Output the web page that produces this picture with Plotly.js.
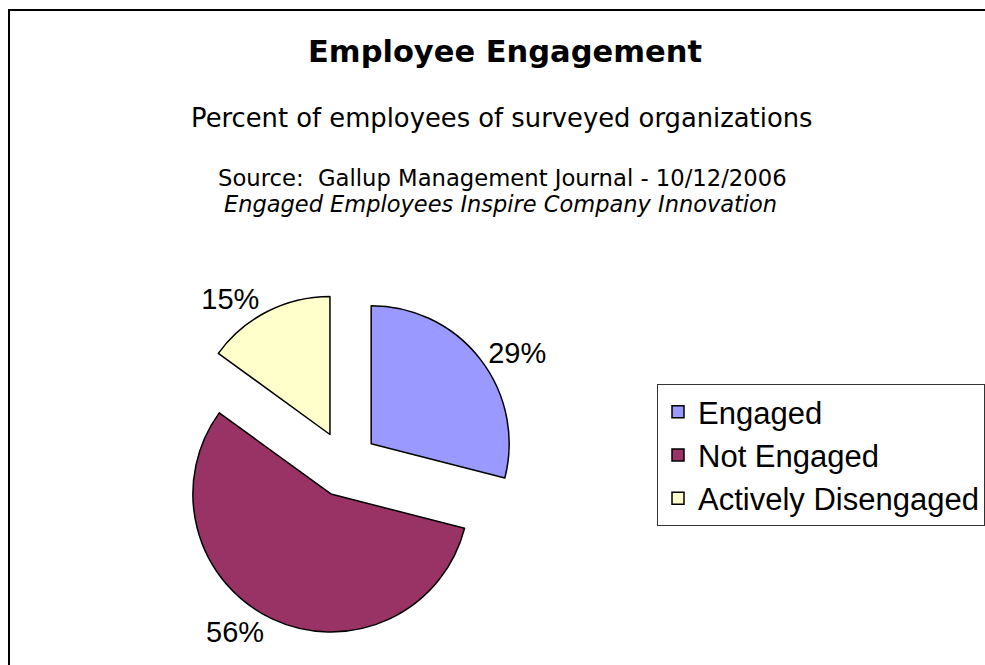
<!DOCTYPE html>
<html>
<head>
<meta charset="utf-8">
<script src="https://cdn.plot.ly/plotly-3.0.1.min.js"></script>
<style>
  html, body { margin: 0; padding: 0; background: #ffffff; }
  #chart { width: 985px; height: 665px; }
</style>
</head>
<body>
<div id="chart"></div>
<script>
// ---- data ----
var categories = ["Engaged", "Not Engaged", "Actively Disengaged"];
var values = [29, 56, 15];
var sliceColors = ["#9999FF", "#993366", "#FFFFCC"];

var titleText = "Employee Engagement";
var subtitleText = "Percent of employees of surveyed organizations";
var sourceText = "Source:&nbsp; Gallup Management Journal - 10/12/2006";
var articleText = "Engaged Employees Inspire Company Innovation";

// ---- layout helpers (page pixel -> paper fraction, margins are zero) ----
var W = 985, H = 665;
function px(x) { return x / W; }
function py(y) { return 1 - y / H; }

var pullFrac = 0.24;
var pieCx = 345, pieCy = 464, pieR = 138;
var outerR = pieR * (1 + pullFrac);

var trace = {
  type: "pie",
  labels: categories,
  values: values,
  sort: false,
  direction: "clockwise",
  rotation: 0,
  pull: categories.map(function () { return pullFrac; }),
  marker: { colors: sliceColors, line: { color: "#000000", width: 1.5 } },
  textinfo: "percent",
  textposition: "outside",
  outsidetextfont: { family: "Liberation Sans, Arial, sans-serif", size: 29, color: "#000000" },
  hoverinfo: "none",
  domain: {
    x: [px(pieCx - outerR), px(pieCx + outerR)],
    y: [py(pieCy + outerR), py(pieCy - outerR)]
  },
  showlegend: true
};

var textFont = "DejaVu Sans, Verdana, sans-serif";

var layout = {
  width: W,
  height: H,
  margin: { l: 0, r: 0, t: 0, b: 0, pad: 0 },
  paper_bgcolor: "#ffffff",
  plot_bgcolor: "#ffffff",
  title: {
    text: titleText,
    font: { family: textFont, size: 30.5, weight: "bold", color: "#000000" },
    xref: "paper", yref: "container",
    x: px(505), y: 1 - 51 / H,
    xanchor: "center", yanchor: "middle"
  },
  annotations: [
    { text: subtitleText, xref: "paper", yref: "paper", x: px(501), y: py(118.5),
      xanchor: "center", yanchor: "middle", showarrow: false,
      font: { family: textFont, size: 25.8, color: "#000000" } },
    { text: sourceText, xref: "paper", yref: "paper", x: px(503), y: py(178),
      xanchor: "center", yanchor: "middle", showarrow: false,
      font: { family: textFont, size: 22.7, color: "#000000" } },
    { text: "<i>" + articleText + "</i>", xref: "paper", yref: "paper", x: px(500.5), y: py(204),
      xanchor: "center", yanchor: "middle", showarrow: false,
      font: { family: textFont, size: 22.5, color: "#000000" } }
  ],
  legend: {
    x: px(657), y: py(384),
    xanchor: "left", yanchor: "top",
    bgcolor: "#ffffff",
    bordercolor: "#333333",
    borderwidth: 1,
    font: { family: "Liberation Sans, Arial, sans-serif", size: 31, color: "#000000" },
    traceorder: "normal"
  },
  shapes: [
    { type: "rect", xref: "paper", yref: "paper",
      x0: px(9), y1: py(10), x1: px(1100), y0: py(900),
      line: { color: "#000000", width: 2 }, fillcolor: "rgba(0,0,0,0)", layer: "above" }
  ],
  showlegend: true
};

Plotly.newPlot("chart", [trace], layout, { displayModeBar: false, staticPlot: true });
</script>
</body>
</html>
